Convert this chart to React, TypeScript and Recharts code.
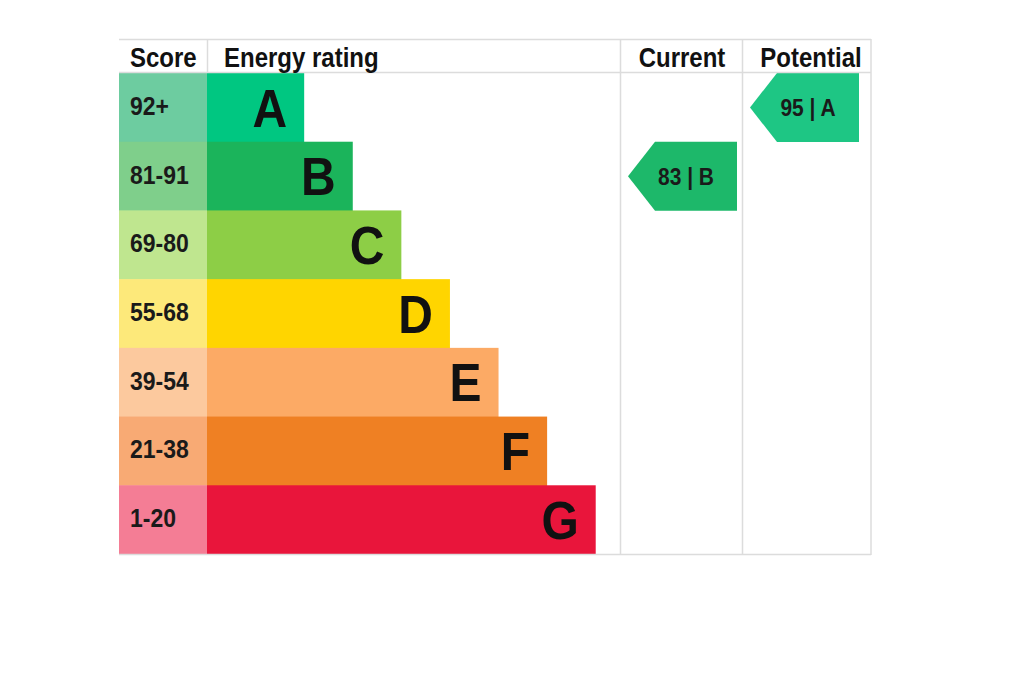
import { BarChart, Bar, XAxis, YAxis } from 'recharts'

// EPC bands, top (best) to bottom (worst)
const bands = ['A', 'B', 'C', 'D', 'E', 'F', 'G']
const scoreRanges = ['92+', '81-91', '69-80', '55-68', '39-54', '21-38', '1-20']
const bandLengths = [2, 3, 4, 5, 6, 7, 8]
const bandColors = ['#00c781', '#1bb45b', '#8dce46', '#ffd500', '#fcaa65', '#ef8023', '#e9153b']
const scoreColors = ['#6dcca0', '#7fcf8b', '#bfe68f', '#fde97a', '#fcc99e', '#f8aa74', '#f47d95']
const arrowColors = ['#1ec684', '#1db86a', '#8dce46', '#ffd500', '#fcaa65', '#ef8023', '#e9153b']

const currentScore = 83
const currentBand = 'B'
const potentialScore = 95
const potentialBand = 'A'

const FONT = '"Liberation Sans", Arial, sans-serif'
const TOP = 73
const CHART_H = 481
const ROW_H = CHART_H / bands.length
const SCORE_W = 88
const LINE = '#dcdcdc'

const rows = bands.map((band, i) => ({
  band,
  length: bandLengths[i],
  current: band === currentBand ? currentScore : null,
  potential: band === potentialBand ? potentialScore : null,
}))

function ScoreTick(props: any) {
  const { y, payload } = props
  const i = bands.indexOf(payload.value)
  return (
    <g>
      <rect x={0} y={y - ROW_H / 2} width={SCORE_W} height={ROW_H + 0.5} fill={scoreColors[i]} />
      <text
        transform={`translate(11 ${y + 7.5}) scale(1 1.15)`}
        fontFamily={FONT}
        fontWeight="bold"
        fontSize={23}
        fill="#1a1a1a"
      >
        {scoreRanges[i]}
      </text>
    </g>
  )
}

function BandBar(props: any) {
  const { x, y, width, height, payload } = props
  const i = bands.indexOf(payload.band)
  return (
    <g>
      <rect x={x} y={y} width={width} height={height + 0.5} fill={bandColors[i]} />
      <text
        transform={`translate(${x + width - 17} ${y + height / 2 + 19}) scale(1 1.1)`}
        textAnchor="end"
        fontFamily={FONT}
        fontWeight="bold"
        fontSize={48}
        fill="#111"
      >
        {payload.band}
      </text>
    </g>
  )
}

function makeArrow(key: 'current' | 'potential') {
  return (props: any) => {
    const { x, y, height, payload } = props
    const value = payload?.[key]
    if (value == null) return null
    const i = bands.indexOf(payload.band)
    const x0 = x + 8
    const w = 109
    const tip = 27
    const yc = y + height / 2
    const pts = `${x0},${yc} ${x0 + tip},${y} ${x0 + w},${y} ${x0 + w},${y + height} ${x0 + tip},${y + height}`
    return (
      <g>
        <polygon points={pts} fill={arrowColors[i]} />
        <text
          transform={`translate(${x0 + 58} ${yc + 8.5}) scale(1 1.15)`}
          textAnchor="middle"
          fontFamily={FONT}
          fontWeight="bold"
          fontSize={21}
          fill="#1a1a1a"
        >
          {`${value} | ${payload.band}`}
        </text>
      </g>
    )
  }
}

function ArrowColumn({ left, width, dataKey }: { left: number; width: number; dataKey: 'current' | 'potential' }) {
  return (
    <div style={{ position: 'absolute', left, top: TOP }}>
      <BarChart
        width={width}
        height={CHART_H}
        data={rows}
        layout="vertical"
        margin={{ top: 0, right: 0, bottom: 0, left: 0 }}
        barCategoryGap={0}
      >
        <XAxis type="number" domain={[0, 100]} hide />
        <YAxis type="category" dataKey="band" hide />
        <Bar dataKey={dataKey} shape={makeArrow(dataKey)} isAnimationActive={false} />
      </BarChart>
    </div>
  )
}

export default function App() {
  return (
    <div style={{ position: 'absolute', left: 0, top: 0, width: 1024, height: 680, background: '#fff' }}>
      {/* Score + energy rating bars */}
      <div style={{ position: 'absolute', left: 119, top: TOP }}>
        <BarChart
          width={501}
          height={CHART_H}
          data={rows}
          layout="vertical"
          margin={{ top: 0, right: 0, bottom: 0, left: 0 }}
          barCategoryGap={0}
        >
          <XAxis type="number" domain={[0, 8.5]} hide />
          <YAxis
            type="category"
            dataKey="band"
            width={SCORE_W}
            interval={0}
            axisLine={false}
            tickLine={false}
            tick={<ScoreTick />}
          />
          <Bar dataKey="length" shape={<BandBar />} isAnimationActive={false} />
        </BarChart>
      </div>

      <ArrowColumn left={620} width={122} dataKey="current" />
      <ArrowColumn left={742} width={129} dataKey="potential" />

      {/* table frame + headers */}
      <svg width={1024} height={680} style={{ position: 'absolute', left: 0, top: 0, pointerEvents: 'none' }}>
        <g stroke={LINE} strokeWidth={1.5}>
          <line x1={119} y1={39.5} x2={871} y2={39.5} />
          <line x1={119} y1={72.5} x2={871} y2={72.5} />
          <line x1={119} y1={554.5} x2={871} y2={554.5} />
          <line x1={207.5} y1={39} x2={207.5} y2={72} />
          <line x1={620.5} y1={39} x2={620.5} y2={555} />
          <line x1={742.5} y1={39} x2={742.5} y2={555} />
          <line x1={871} y1={39} x2={871} y2={555} />
        </g>
        <g fontFamily={FONT} fontWeight="bold" fontSize={24} fill="#111">
          <text transform="translate(130 67) scale(1 1.15)">Score</text>
          <text transform="translate(224 67) scale(1 1.15)">Energy rating</text>
          <text transform="translate(682 67) scale(1 1.15)" textAnchor="middle">Current</text>
          <text transform="translate(811 67) scale(1 1.15)" textAnchor="middle">Potential</text>
        </g>
      </svg>
    </div>
  )
}
